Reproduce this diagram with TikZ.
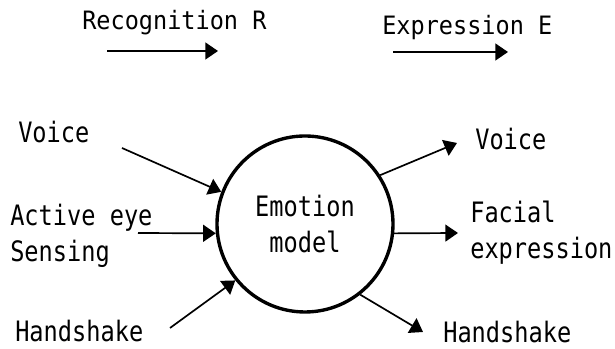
\documentclass[tikz,border=0pt]{standalone}
\usepackage{fontspec}
\usetikzlibrary{arrows.meta}
\newfontfamily\lblfont{DejaVu Sans Mono}[FakeStretch=0.84]
\newfontfamily\headfont{DejaVu Sans Mono}[FakeStretch=0.93]

\begin{document}
\begin{tikzpicture}[lbl/.style={font=\lblfont\fontsize{20}{26}\selectfont,inner sep=0pt,align=left},head/.style={lbl,font=\headfont\fontsize{18}{20}\selectfont},model/.style={draw,circle,line width=2.4pt,minimum size=4.4cm,inner sep=0pt,align=center,font=\lblfont\fontsize{20}{25}\selectfont},arr/.style={-{Triangle[length=9pt,width=12pt]},line width=1.2pt}]
\useasboundingbox (0,0) rectangle (15.375,8.725);
\node[head,anchor=base west](rec) at (2.05,7.975){Recognition R};
\node[head,anchor=base west](expr) at (9.55,7.85){Expression E};
\node[model](emo) at (7.625,3.125){Emotion\\model};
\node[lbl,anchor=base west](vin) at (0.45,5.15){Voice};
\node[lbl,anchor=base west](ain) at (0.25,2.175){Active eye\\Sensing};
\node[lbl,anchor=base west](hin) at (0.375,0.175){Handshake};
\node[lbl,anchor=base west](vout) at (11.875,4.975){Voice};
\node[lbl,anchor=base west](fout) at (11.75,2.25){Facial\\expression};
\node[lbl,anchor=base west](hout) at (11.075,0.15){Handshake};
\coordinate (recs) at (2.675,7.45);
\coordinate (rece) at (5.45,7.45);
\coordinate (exps) at (9.825,7.425);
\coordinate (expe) at (12.7,7.425);
\coordinate (vins) at (3.05,5.025);
\coordinate (ains) at (3.45,2.9);
\coordinate (hins) at (4.25,0.525);
\coordinate (voute) at (11.425,5.15);
\coordinate (foute) at (11.45,2.9);
\coordinate (houte) at (10.575,0.425);
\draw[arr](recs)--(rece);
\draw[arr](exps)--(expe);
\draw[arr](vins)--(emo.159.5);
\draw[arr](ains)--(emo.186);
\draw[arr](hins)--(emo.219.5);
\draw[arr](emo.33.5)--(voute);
\draw[arr](emo.-6)--(foute);
\draw[arr](emo.-52)--(houte);
\end{tikzpicture}
\end{document}
